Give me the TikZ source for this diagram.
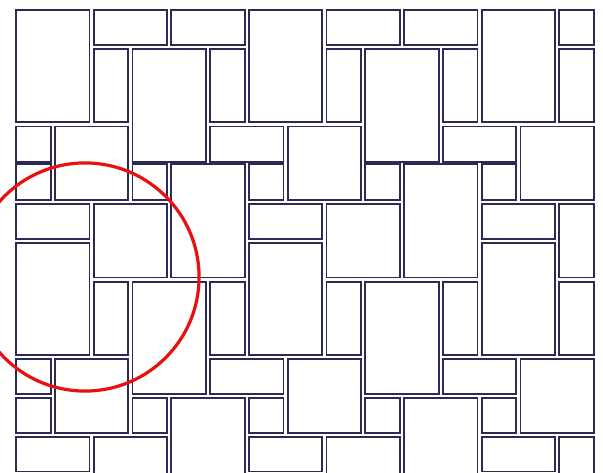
\documentclass[tikz,border=0pt]{standalone}
\usepackage{tikz}
\usetikzlibrary{calc}
\definecolor{tileline}{RGB}{44,42,84}
\definecolor{ringred}{RGB}{232,16,16}
\tikzset{
	tile/.style={draw=tileline, line width=1.8pt, fill=white},
	redring/.style={draw=ringred, line width=3.2pt}
}

\begin{document}
\begin{tikzpicture}[x=38.8pt,y=-38.8pt]
	\useasboundingbox (-0.361,-0.206) rectangle (15.180,11.959);
	\fill[white] (-0.361,-0.206) rectangle (15.180,11.959);
	\clip (-0.361,-0.206) rectangle (15.180,11.959);
	\foreach \bx/\by/\bw/\bh in {0/0/2/3, 2/-1/2/2, 4/-2/2/3, 2/1/1/2, 3/1/2/3, 5/1/1/2,
		1/3/2/2, 0/4/1/1, 3/4/1/1, 5/3/2/1, 0/5/2/1}{
		\foreach \i in {-1,...,2}{
			\foreach \j in {0,1,2}{
				\pgfmathsetmacro\xa{max(\bx+6*\i,0)}
				\pgfmathsetmacro\xb{min(\bx+\bw+6*\i,15)}
				\pgfmathsetmacro\ya{max(\by+6*\j,0)}
				\pgfmathsetmacro\yb{\by+\bh+6*\j}
				\pgfmathtruncatemacro\ok{and(\xa<\xb,\ya<\yb)}
				\pgfmathsetmacro\ta{\ya==4 ? 0.024 : 0.054}
				\pgfmathsetmacro\tb{\yb==4 ? 0.024 : 0.054}
				\ifnum\ok=1
					\draw[tile] (\xa+0.054,\ya+\ta) rectangle (\xb-0.054,\yb-\tb);
				\fi
			}
		}
	}
	\draw[redring] (1.830,6.933) circle (2.94);
\end{tikzpicture}
\end{document}
